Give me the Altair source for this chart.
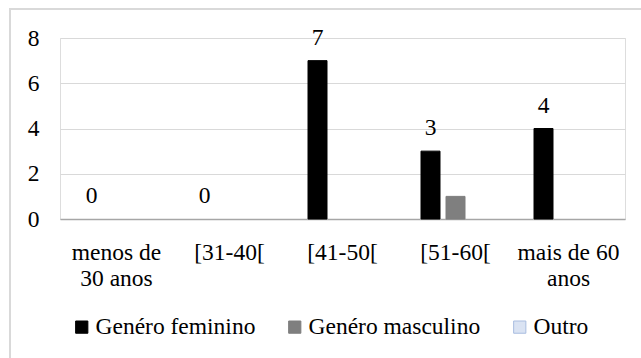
import json
import altair as alt
import pandas as pd

# Age groups and respondent counts per gender
categories = ["menos de 30 anos", "[31-40[", "[41-50[", "[51-60[", "mais de 60 anos"]
category_lines = [["menos de", "30 anos"], ["[31-40["], ["[41-50["], ["[51-60["], ["mais de 60", "anos"]]
series = ["Genéro feminino", "Genéro masculino", "Outro"]
feminino = [0, 0, 7, 3, 4]
masculino = [0, 0, 0, 1, 0]
outro = [0, 0, 0, 0, 0]

fill_colors = ["#000000", "#7f7f7f", "#dae3f3"]
stroke_colors = ["#000000", "#7f7f7f", "#a9bde0"]
FONT = "Liberation Serif"
FS = 23.5

rows = []
for name, values in zip(series, [feminino, masculino, outro]):
    for cat, v in zip(categories, values):
        rows.append({"faixa": cat, "serie": name, "valor": v})
df = pd.DataFrame(rows)

# Wrapped tick labels for the age groups
label_map = json.dumps(dict(zip(categories, category_lines)), ensure_ascii=False)
label_expr = f"{label_map}[datum.label]"

x_enc = alt.X(
    "faixa:N",
    sort=categories,
    scale=alt.Scale(paddingInner=0, paddingOuter=0),
    axis=alt.Axis(
        title=None,
        labelAngle=0,
        ticks=False,
        domainColor="#a6a6a6",
        domainWidth=1.5,
        labelFont=FONT,
        labelFontSize=FS,
        labelColor="#000000",
        labelPadding=40,
        labelBaseline="alphabetic",
        labelLineHeight=26,
        labelLimit=300,
        labelExpr=label_expr,
        grid=False,
    ),
)
xoff = alt.XOffset(
    "serie:N",
    sort=series,
    scale=alt.Scale(domain=series, paddingInner=0.24, paddingOuter=0.88),
)
y_enc = alt.Y(
    "valor:Q",
    scale=alt.Scale(domain=[0, 8]),
    axis=alt.Axis(
        title=None,
        values=[0, 2, 4, 6, 8],
        ticks=False,
        domain=False,
        gridColor="#d9d9d9",
        gridWidth=1.2,
        labelFont=FONT,
        labelFontSize=FS,
        labelColor="#000000",
        labelPadding=21,
    ),
)

base = alt.Chart(df)

bars = (
    base.transform_filter("datum.valor > 0")
    .mark_bar(strokeWidth=1)
    .encode(
        x=x_enc,
        xOffset=xoff,
        y=y_enc,
        fill=alt.Fill(
            "serie:N",
            sort=series,
            scale=alt.Scale(domain=series, range=fill_colors),
            legend=alt.Legend(
                title=None,
                orient="none",
                direction="horizontal",
                legendX=10,
                legendY=277,
                symbolType="square",
                symbolSize=150,
                symbolStrokeWidth=1,
                labelFont=FONT,
                labelFontSize=FS,
                labelColor="#000000",
                labelOffset=2,
                labelLimit=300,
                columnPadding=27,
                padding=0,
            ),
        ),
        stroke=alt.Stroke(
            "serie:N",
            sort=series,
            scale=alt.Scale(domain=series, range=stroke_colors),
            legend=None,
        ),
    )
)

labels = (
    base.transform_filter(alt.datum.serie == series[0])
    .mark_text(font=FONT, fontSize=FS, color="#000000", baseline="alphabetic", dy=-16)
    .encode(x=x_enc, xOffset=xoff, y=y_enc, text="valor:Q")
)

# Light frame around the whole chart
frame = (
    alt.Chart(alt.Data(values=[{}]))
    .mark_rect(fill="transparent", stroke="#d9d9d9", strokeWidth=2)
    .encode(
        x=alt.value(-50),
        x2=alt.value(700),
        y=alt.value(-29),
        y2=alt.value(400),
    )
)

chart = (
    alt.layer(frame, bars, labels)
    .properties(
        width=565,
        height=181,
        autosize=alt.AutoSizeParams(type="none"),
        padding={"left": 60, "top": 38, "right": 16, "bottom": 139},
    )
    .configure_view(stroke="#d9d9d9", strokeWidth=1.2)
    .configure(background="#ffffff", font=FONT)
)

chart.save("out.html", embed_options={"renderer": "svg", "actions": False})
